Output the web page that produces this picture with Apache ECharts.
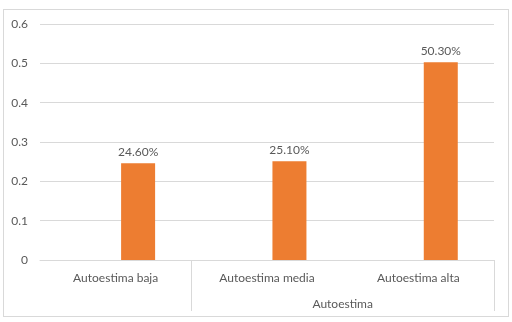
<!DOCTYPE html>
<html>
<head>
<meta charset="utf-8">
<script src="https://cdn.jsdelivr.net/npm/echarts@6/dist/echarts.min.js"></script>
<style>
  html, body { margin: 0; padding: 0; background: #fff; }
  #frame { position: absolute; left: 3px; top: 9px; width: 504px; height: 306px; border: 1px solid #d9d9d9; }
  #ech { position: absolute; left: 0; top: 0; width: 512px; height: 322px; }
</style>
</head>
<body>
<div id="frame"></div>
<div id="ech"></div>
<script>
var categories = ["Autoestima baja", "Autoestima media", "Autoestima alta"];
var emptySeries = [null, null, null];
var values = [0.246, 0.251, 0.503];
var groupLabel = "Autoestima";

var textColor = "#595959";
var lineColor = "#d9d9d9";
var font = "Lato";

var myChart = echarts.init(document.getElementById("ech"));

var option = {
  animation: false,
  textStyle: { fontFamily: font },
  grid: { left: 40, right: 18, top: 24, bottom: 62 },
  xAxis: [
    {
      type: "category",
      data: categories,
      axisLine: { lineStyle: { color: lineColor } },
      axisTick: { show: false },
      axisLabel: { color: textColor, fontSize: 12, fontFamily: font, margin: 12 }
    },
    {
      type: "value",
      position: "bottom",
      min: 0,
      max: 3,
      axisLine: { show: false },
      splitLine: { show: false },
      axisTick: {
        show: true,
        customValues: [1, 3],
        length: 51,
        lineStyle: { color: lineColor }
      },
      axisLabel: {
        customValues: [2],
        formatter: function () { return groupLabel; },
        color: textColor,
        fontSize: 12,
        fontFamily: font,
        margin: 38
      }
    }
  ],
  yAxis: {
    type: "value",
    min: 0,
    max: 0.6,
    interval: 0.1,
    axisLine: { show: false },
    axisTick: { show: false },
    splitLine: { lineStyle: { color: lineColor } },
    axisLabel: { color: textColor, fontSize: 12, fontFamily: font, margin: 12 }
  },
  series: [
    {
      type: "bar",
      xAxisIndex: 0,
      data: emptySeries,
      barWidth: 34,
      barGap: "32%",
      itemStyle: { color: "#4472C4" }
    },
    {
      type: "bar",
      xAxisIndex: 0,
      data: values,
      barWidth: 34,
      barGap: "32%",
      itemStyle: { color: "#ED7D31" },
      label: {
        show: true,
        position: "top",
        distance: 5,
        color: textColor,
        fontSize: 12,
        fontFamily: font,
        formatter: function (p) { return (p.value * 100).toFixed(2) + "%"; }
      }
    }
  ]
};

myChart.setOption(option);
</script>
</body>
</html>
